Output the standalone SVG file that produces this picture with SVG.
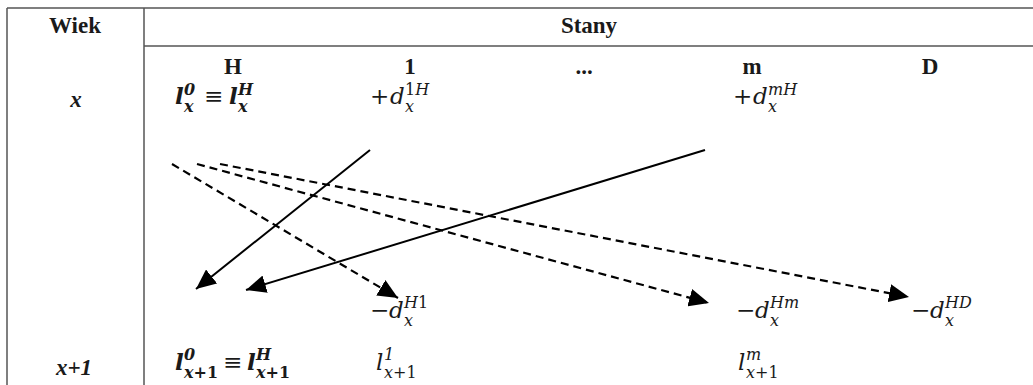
<svg xmlns="http://www.w3.org/2000/svg" width="1033" height="385" viewBox="0 0 1033 385">
<style>
.hdr{font-family:"Liberation Serif","Times New Roman",serif;font-weight:bold;font-size:23px;fill:#1a1a1a;text-anchor:middle}
.age{font-family:"Liberation Serif","Times New Roman",serif;font-weight:bold;font-style:italic;font-size:23px;fill:#1a1a1a;text-anchor:middle}
.m{font-family:"DejaVu Serif","Liberation Serif",serif;font-style:italic;font-size:23px;fill:#1a1a1a}
.mb{font-family:"DejaVu Serif","Liberation Serif",serif;font-style:italic;font-weight:bold;font-size:23px;fill:#1a1a1a}
.s{font-family:"DejaVu Serif","Liberation Serif",serif;font-style:italic;font-size:16px;fill:#1a1a1a}
.sb{font-family:"DejaVu Serif","Liberation Serif",serif;font-style:italic;font-weight:bold;font-size:16px;fill:#1a1a1a}
.r{font-family:"DejaVu Serif","Liberation Serif",serif;font-size:23px;fill:#1a1a1a}
.grid{stroke:#555;stroke-width:1.5;fill:none}
.solid{stroke:#000;stroke-width:2;fill:none}
.dash{stroke:#000;stroke-width:2.2;fill:none;stroke-dasharray:8 5}
</style>
<defs>
<marker id="ah" markerUnits="userSpaceOnUse" markerWidth="22" markerHeight="18" refX="20" refY="9" orient="auto">
<path d="M0,0 L20,9 L0,18 Z" fill="#000"/>
</marker>
</defs>
<g id="table">
<line class="grid" x1="7" y1="8" x2="1033" y2="8"/>
<line class="grid" x1="7" y1="8" x2="7" y2="385"/>
<line class="grid" x1="144" y1="8" x2="144" y2="385"/>
<line class="grid" x1="144" y1="46" x2="1033" y2="46"/>
</g>
<g id="hdr-wiek"><text class="hdr" x="75" y="33">Wiek</text></g>
<g id="hdr-stany"><text class="hdr" x="589" y="33">Stany</text></g>
<g id="col-H"><text class="hdr" x="233" y="74">H</text></g>
<g id="col-1"><text class="hdr" x="410" y="74">1</text></g>
<g id="col-dots"><text class="hdr" x="584" y="74">...</text></g>
<g id="col-m"><text class="hdr" x="752" y="74">m</text></g>
<g id="col-D"><text class="hdr" x="930" y="74">D</text></g>
<g id="age-x"><text class="age" x="76" y="107">x</text></g>
<g id="age-x1"><text class="age" x="74" y="375">x+1</text></g>
<g id="lx">
<text class="mb" x="175" y="104">l</text>
<text class="sb" x="184" y="95" font-style="normal">0</text>
<text class="sb" x="184" y="112">x</text>
<text class="r" x="204" y="104">≡</text>
<text class="mb" x="229" y="104">l</text>
<text class="sb" x="238" y="95">H</text>
<text class="sb" x="238" y="112">x</text>
</g>
<g id="d1H">
<text class="r" x="370" y="104">+</text>
<text class="m" x="390" y="104">d</text>
<text class="s" x="405" y="95"><tspan font-style="normal">1</tspan>H</text>
<text class="s" x="405" y="112">x</text>
</g>
<g id="dmH">
<text class="r" x="733" y="104">+</text>
<text class="m" x="753" y="104">d</text>
<text class="s" x="768" y="95">mH</text>
<text class="s" x="768" y="112">x</text>
</g>
<g id="dH1">
<text class="r" x="370" y="318">−</text>
<text class="m" x="389" y="318">d</text>
<text class="s" x="404" y="308">H<tspan font-style="normal">1</tspan></text>
<text class="s" x="404" y="326">x</text>
</g>
<g id="dHm">
<text class="r" x="736" y="318">−</text>
<text class="m" x="755" y="318">d</text>
<text class="s" x="770" y="308">Hm</text>
<text class="s" x="770" y="326">x</text>
</g>
<g id="dHD">
<text class="r" x="911" y="318">−</text>
<text class="m" x="930" y="318">d</text>
<text class="s" x="945" y="308">HD</text>
<text class="s" x="945" y="326">x</text>
</g>
<g id="lx1">
<text class="mb" x="175" y="370">l</text>
<text class="sb" x="184" y="360" font-style="normal">0</text>
<text class="sb" x="184" y="378">x<tspan font-style="normal">+1</tspan></text>
<text class="r" x="223" y="370">≡</text>
<text class="mb" x="247" y="370">l</text>
<text class="sb" x="256" y="360">H</text>
<text class="sb" x="256" y="378">x<tspan font-style="normal">+1</tspan></text>
</g>
<g id="l1x1">
<text class="m" x="376" y="370">l</text>
<text class="s" x="384" y="360" font-style="normal">1</text>
<text class="s" x="384" y="378">x<tspan font-style="normal">+1</tspan></text>
</g>
<g id="lmx1">
<text class="m" x="738" y="370">l</text>
<text class="s" x="746" y="360">m</text>
<text class="s" x="746" y="378">x<tspan font-style="normal">+1</tspan></text>
</g>
<g id="connectors">
<line class="solid" x1="370" y1="150" x2="196" y2="289" marker-end="url(#ah)"/>
<line class="solid" x1="705" y1="150" x2="246" y2="290" marker-end="url(#ah)"/>
<line class="dash" x1="172" y1="164" x2="398" y2="298" marker-end="url(#ah)"/>
<line class="dash" x1="197" y1="164" x2="709" y2="303" marker-end="url(#ah)"/>
<line class="dash" x1="220" y1="164" x2="909" y2="297" marker-end="url(#ah)"/>
</g>
</svg>
